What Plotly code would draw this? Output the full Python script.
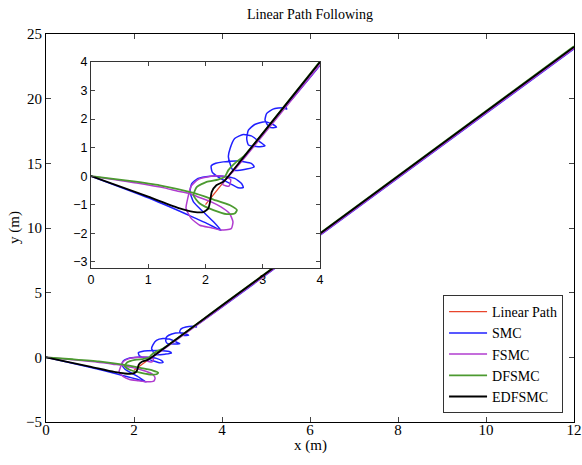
import plotly.graph_objects as go

# ---------------- data ----------------
path_x = [2.0, 12.0]
path_y = [-1.0, 24.0]

smc_x = [0.0, 1.0, 1.64, 1.85, 2.05, 2.27, 2.14, 1.96, 1.79, 1.73, 1.76, 1.87, 2.08, 2.31, 2.51, 2.63, 2.66,
         2.57, 2.43, 2.26, 2.12, 2.10, 2.18, 2.31, 2.57, 2.80, 2.85, 2.72, 2.48, 2.40, 2.43, 2.51, 2.66,
         2.80, 2.95, 3.04, 2.92, 2.75, 2.72, 2.75, 2.86, 3.04, 3.18, 3.24, 3.12, 3.04, 3.07, 3.18, 3.36,
         3.42, 3.40, 3.52, 4.02, 12.0]
smc_y = [0.0, -0.76, -1.31, -1.50, -1.68, -1.90, -1.60, -1.25, -0.90, -0.55, -0.26, -0.08, 0.0, 0.0, -0.08,
         -0.26, -0.40, -0.41, -0.26, -0.08, 0.13, 0.36, 0.45, 0.50, 0.53, 0.45, 0.33, 0.25, 0.21, 0.68, 0.97,
         1.32, 1.46, 1.41, 1.20, 1.06, 1.03, 1.09, 1.32, 1.61, 1.81, 1.91, 1.81, 1.71, 1.71, 1.96, 2.20,
         2.35, 2.40, 2.35, 2.45, 2.72, 3.93, 23.85]

fsmc_x = [0.0, 0.8, 1.3, 1.52, 1.72, 1.87, 2.10, 2.27, 2.42, 2.48, 2.45, 2.27, 2.10, 1.90, 1.75, 1.66, 1.69,
          1.75, 1.87, 2.10, 2.30, 2.44, 2.41, 2.30, 2.38, 2.50, 4.02, 12.0]
fsmc_y = [0.0, -0.24, -0.42, -0.53, -0.61, -0.73, -0.90, -1.08, -1.31, -1.60, -1.84, -1.89, -1.81, -1.72,
          -1.48, -1.13, -0.78, -0.35, -0.12, 0.0, 0.0, -0.12, -0.35, -0.29, -0.05, 0.20, 3.95, 23.9]

dfsmc_x = [0.0, 0.6, 1.2, 1.79, 2.14, 2.43, 2.55, 2.51, 2.37, 2.14, 1.90, 1.79, 1.85, 2.02, 2.22, 2.34,
           2.40, 2.54, 2.66, 4.0, 12.0]
dfsmc_y = [0.0, -0.15, -0.32, -0.59, -0.82, -1.02, -1.19, -1.31, -1.33, -1.19, -0.96, -0.67, -0.38, -0.20,
           -0.12, -0.02, 0.21, 0.50, 0.68, 4.02, 24.05]

edfsmc_x = [0.0, 1.0, 1.55, 1.79, 1.96, 2.05, 2.08, 2.11, 2.19, 2.31, 2.37, 2.42, 4.0, 12.0]
edfsmc_y = [0.0, -0.72, -1.13, -1.25, -1.26, -1.13, -0.90, -0.55, -0.32, -0.20, -0.08, 0.05, 4.0, 24.0]

names = ["Linear Path", "SMC", "FSMC", "DFSMC", "EDFSMC"]
colors = ["#e8452c", "#2020ff", "#b03ccf", "#4c9a30", "#000000"]

main_xticks = [0, 2, 4, 6, 8, 10, 12]
main_yticks = [-5, 0, 5, 10, 15, 20, 25]
inset_xticks = [0, 1, 2, 3, 4]
inset_yticks = [-3, -2, -1, 0, 1, 2, 3, 4]

# ---------------- figure ----------------
series = [(path_x, path_y), (smc_x, smc_y), (fsmc_x, fsmc_y), (dfsmc_x, dfsmc_y), (edfsmc_x, edfsmc_y)]
widths = [1.3, 1.5, 1.5, 1.8, 1.8]

fig = go.Figure()
for (xs, ys), n, c, w in zip(series, names, colors, widths):
    fig.add_trace(go.Scatter(x=xs, y=ys, mode="lines", name=n,
                             line=dict(color=c, width=w, shape="spline", smoothing=0.55),
                             xaxis="x", yaxis="y", showlegend=True))
for (xs, ys), n, c, w in zip(series, names, colors, widths):
    fig.add_trace(go.Scatter(x=xs, y=ys, mode="lines", name=n,
                             line=dict(color=c, width=w, shape="spline", smoothing=0.55),
                             xaxis="x2", yaxis="y2", showlegend=False))

serif = "Liberation Serif, Times New Roman, serif"
sans = "Liberation Sans, Arial, sans-serif"

fig.update_layout(
    width=582, height=465,
    margin=dict(l=46, r=8, t=34, b=43, autoexpand=False),
    paper_bgcolor="white", plot_bgcolor="white",
    font=dict(family=serif, size=15, color="black"),
    xaxis=dict(domain=[0, 1], range=[0, 12], tickvals=main_xticks, ticks="inside", ticklen=5,
               showline=True, linecolor="black", linewidth=1, mirror="ticks", showgrid=False,
               zeroline=False, automargin=False, tickfont=dict(size=15), ticklabelstandoff=-6),
    yaxis=dict(domain=[0, 1], range=[-5, 25], tickvals=main_yticks, ticks="inside", ticklen=5,
               showline=True, linecolor="black", linewidth=1, mirror="ticks", showgrid=False,
               zeroline=False, automargin=False, tickfont=dict(size=15)),
    xaxis2=dict(domain=[0.0852, 0.5189], range=[0, 4], tickvals=inset_xticks, ticks="inside", ticklen=4,
                showline=True, linecolor="#333333", linewidth=1, mirror="ticks", showgrid=False,
                zeroline=False, anchor="y2", automargin=False,
                tickfont=dict(family=sans, size=12.5, color="black")),
    yaxis2=dict(domain=[0.3969, 0.9278], range=[-3.22, 4], tickvals=inset_yticks, ticks="inside", ticklen=4,
                showline=True, linecolor="#333333", linewidth=1, mirror="ticks", showgrid=False,
                zeroline=False, anchor="x2", automargin=False,
                tickfont=dict(family=sans, size=12.5, color="black")),
    legend=dict(x=0.752, y=0.023, xanchor="left", yanchor="bottom", bgcolor="white",
                bordercolor="#333333", borderwidth=1, font=dict(family=serif, size=14, color="black"),
                tracegroupgap=0, itemwidth=38),
    showlegend=True,
    annotations=[
        dict(text="Linear Path Following", xref="paper", yref="paper", x=0.5, y=1.0, yshift=20,
             xanchor="center", yanchor="middle", showarrow=False,
             font=dict(family=serif, size=14, color="black")),
        dict(text="x (m)", xref="paper", yref="paper", x=0.5, y=0, yshift=-23,
             xanchor="center", yanchor="middle", showarrow=False,
             font=dict(family=serif, size=15, color="black")),
        dict(text="y (m)", xref="paper", yref="paper", x=0, y=0.5, xshift=-32, textangle=-90,
             xanchor="center", yanchor="middle", showarrow=False,
             font=dict(family=serif, size=15, color="black")),
    ],
)

fig.write_html("out.html", config={"displayModeBar": False},
               post_script="document.body.style.margin='0';document.body.style.padding='0';")
